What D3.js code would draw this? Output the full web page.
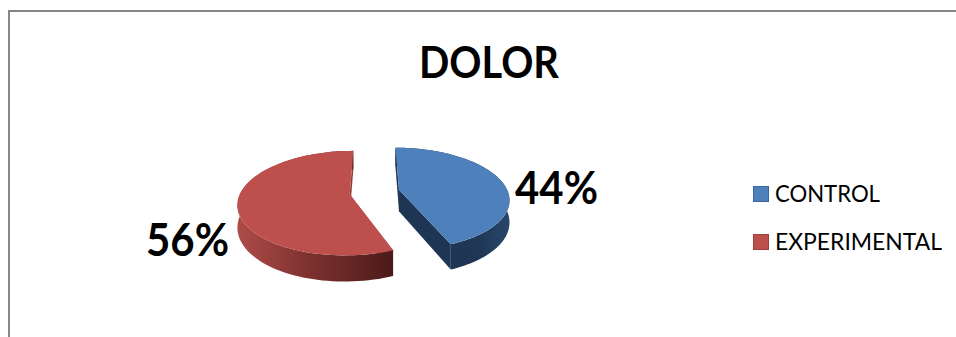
<!DOCTYPE html>
<html>
<head>
<meta charset="utf-8">
<script src="https://cdnjs.cloudflare.com/ajax/libs/d3/7.8.5/d3.min.js"></script>
<style>
  html, body { margin: 0; padding: 0; background: #fff; overflow: hidden; }
  svg { display: block; }
  text { font-family: Lato, Carlito, "Open Sans", sans-serif; fill: #000; }
</style>
</head>
<body>
<svg id="chart" width="956" height="337"></svg>
<script>
const categories = ["CONTROL", "EXPERIMENTAL"];
const values = [44, 56];
const chartTitle = "DOLOR";
const valueLabels = ["44%", "56%"];
const topColors = ["#4e80bc", "#bd4f4c"];
const swatchStrokes = ["#3a6699", "#9b3f3c"];

const width = 956, height = 337;
const svg = d3.select("#chart");
const defs = svg.append("defs");

// Disc plane (-1..1) to screen offsets, then a simple perspective divide.
const originX = 374.5, originY = 192;
const xScale = d3.scaleLinear().domain([-1, 1]).range([-109, 109]);
const yScale = d3.scaleLinear().domain([-1, 1]).range([50, -50]);
const perspective = 0.17, explode = 0.23, depth = 21.5;

function project(px, py, drop) {
  const w = 1 + perspective * py;
  return [originX + xScale(px) / w, originY + (yScale(py) + drop) / w];
}

const line = d3.line();
const pie = d3.pie().sort(null).value(d => d);
const slices = pie(values);

function sliceGeometry(s) {
  const mid = (s.startAngle + s.endAngle) / 2;
  const ox = explode * Math.sin(mid), oy = explode * Math.cos(mid);
  const steps = d3.range(0, 91).map(i => s.startAngle + (s.endAngle - s.startAngle) * i / 90);
  const rim = drop => steps.map(a => project(ox + Math.sin(a), oy + Math.cos(a), drop));
  return {
    centre: drop => project(ox, oy, drop),
    rim
  };
}

// Side gradients: red darkens to the right, blue stays close to navy.
const sideStops = [
  [["0%", "#1d3351"], ["70%", "#1f3654"], ["100%", "#27456a"]],
  [["0%", "#ad4c49"], ["45%", "#7e3230"], ["100%", "#4c1a18"]]
];
sideStops.forEach((stops, i) => {
  const g = defs.append("linearGradient").attr("id", "side" + i);
  stops.forEach(([o, c]) => g.append("stop").attr("offset", o).attr("stop-color", c));
});
const faceColors = ["#1e3553", "#8f3d3b"];

// Outer frame: only the top and left borders fall inside the view.
svg.append("path")
  .attr("d", line([[9, height], [9, 11], [width, 11]]))
  .attr("fill", "none").attr("stroke", "#868686").attr("stroke-width", 2);

const sliceGroups = svg.selectAll("g.slice").data(slices).join("g").attr("class", "slice");
sliceGroups.each(function (s, i) {
  const g = d3.select(this);
  const geo = sliceGeometry(s);
  const top = geo.rim(0), bottom = geo.rim(depth);
  const c0 = geo.centre(0), c1 = geo.centre(depth);

  // Cut faces first, then the curved side, then the top surface.
  [0, top.length - 1].forEach(k => {
    g.append("path")
      .attr("d", line([c0, top[k], bottom[k], c1]) + "Z")
      .attr("fill", faceColors[i]);
  });
  g.append("path")
    .attr("d", line(top.concat(bottom.slice().reverse())) + "Z")
    .attr("fill", `url(#side${i})`);
  g.append("path")
    .attr("d", line([c0].concat(top)) + "Z")
    .attr("fill", topColors[i]);
});

svg.append("text")
  .attr("x", 419).attr("y", 78)
  .attr("font-size", 43).attr("font-weight", 700)
  .attr("textLength", 140).attr("lengthAdjust", "spacingAndGlyphs")
  .text(chartTitle);

const labelLefts = [515, 146], labelBaselines = [204, 256];
svg.selectAll("text.value").data(valueLabels).join("text")
  .attr("class", "value")
  .attr("x", (d, i) => labelLefts[i])
  .attr("y", (d, i) => labelBaselines[i])
  .attr("font-size", 46).attr("font-weight", 700)
  .attr("textLength", 83).attr("lengthAdjust", "spacingAndGlyphs")
  .text(d => d);

const legendY = d3.scalePoint().domain(categories).range([194, 242]);
const legendWidths = [105, 167];
const legend = svg.selectAll("g.legend").data(categories).join("g")
  .attr("class", "legend")
  .attr("transform", d => `translate(753,${legendY(d)})`);
legend.append("rect")
  .attr("x", 0.5).attr("y", -7.5).attr("width", 15).attr("height", 15)
  .attr("fill", (d, i) => topColors[i])
  .attr("stroke", (d, i) => swatchStrokes[i]).attr("stroke-width", 1);
legend.append("text")
  .attr("x", 22).attr("y", 8)
  .attr("font-size", 23)
  .attr("textLength", (d, i) => legendWidths[i]).attr("lengthAdjust", "spacingAndGlyphs")
  .text(d => d);
</script>
</body>
</html>
